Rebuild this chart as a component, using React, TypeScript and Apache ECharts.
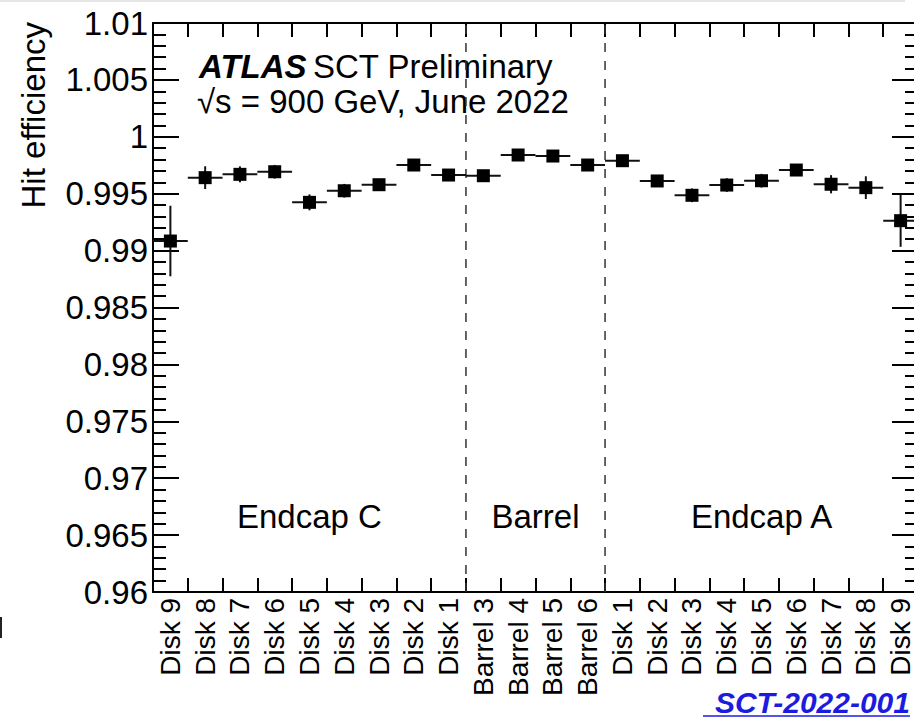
import React, { useEffect, useRef } from "react";
import * as echarts from "echarts";

const categories = [
  "Disk 9", "Disk 8", "Disk 7", "Disk 6", "Disk 5", "Disk 4", "Disk 3", "Disk 2", "Disk 1",
  "Barrel 3", "Barrel 4", "Barrel 5", "Barrel 6",
  "Disk 1", "Disk 2", "Disk 3", "Disk 4", "Disk 5", "Disk 6", "Disk 7", "Disk 8", "Disk 9",
];
const efficiency = [
  0.99084, 0.99641, 0.9967, 0.99693, 0.99424, 0.99526, 0.99579, 0.99752, 0.99664,
  0.99658, 0.9984, 0.99831, 0.99752,
  0.9979, 0.99612, 0.99486, 0.99576, 0.99614, 0.99708, 0.99583, 0.99553, 0.99263,
];
const efficiencyError = [
  0.0031, 0.001, 0.0007, 0.0006, 0.0007, 0.0006, 0.0005, 0.0002, 0.0003,
  0.0002, 0.0002, 0.0002, 0.0002,
  0.0002, 0.0004, 0.0006, 0.0006, 0.0006, 0.0005, 0.0008, 0.001, 0.0023,
];
// Region dividers: after these category indices
const dividerAfter = [8, 12];
// Region labels: first index, last index, label
const regionStart = [0, 9, 13];
const regionEnd = [8, 12, 21];
const regionNames = ["Endcap C", "Barrel", "Endcap A"];
const regionLabelY = 0.9666;

const Y_MIN = 0.96;
const Y_MAX = 1.01;
const Y_STEP = 0.005;

const FONT = '"Liberation Sans", Arial, Helvetica, sans-serif';
const FS = 33;

export default function App() {
  const ref = useRef<HTMLDivElement>(null);
  useEffect(() => {
    document.body.style.margin = "0";
    const chart = echarts.init(ref.current!, null, { renderer: "svg" });

    const pointData = efficiency.map((v, i) => [i, v, efficiencyError[i]]);
    const dividerData = dividerAfter.map((i) => [i, Y_MIN]);
    const regionData = regionNames.map((n, k) => [regionStart[k], regionLabelY, regionEnd[k], n]);

    const axisLineStyle = { color: "#000", width: 2 };
    const yAxisBase = {
      type: "value",
      min: Y_MIN,
      max: Y_MAX,
      interval: Y_STEP,
      splitLine: { show: false },
      axisLine: { show: true, onZero: false, lineStyle: axisLineStyle },
      axisTick: { show: true, inside: true, length: 26, lineStyle: { color: "#000", width: 2 } },
      minorTick: { show: true, splitNumber: 5, length: 13, lineStyle: { color: "#000", width: 2 } },
    };

    chart.setOption({
      animation: false,
      backgroundColor: "#fff",
      grid: { left: 153, top: 23, width: 765, height: 569, containLabel: false, outerBoundsMode: "none" },
      xAxis: [
        {
          type: "category",
          data: categories,
          position: "bottom",
          boundaryGap: true,
          axisLine: { show: true, onZero: false, lineStyle: axisLineStyle },
          axisTick: { show: true, inside: true, length: 14, interval: 0, alignWithLabel: false, lineStyle: { color: "#000", width: 2 } },
          axisLabel: {
            show: true,
            interval: 0,
            rotate: 90,
            margin: 6,
            color: "#000",
            fontSize: 28,
            fontFamily: FONT,
            hideOverlap: false,
          },
          splitLine: { show: false },
        },
        {
          type: "category",
          data: categories,
          position: "top",
          boundaryGap: true,
          axisLine: { show: true, onZero: false, lineStyle: axisLineStyle },
          axisTick: { show: true, inside: true, length: 14, interval: 0, alignWithLabel: false, lineStyle: { color: "#000", width: 2 } },
          axisLabel: { show: false },
          splitLine: { show: false },
        },
      ],
      yAxis: [
        {
          ...yAxisBase,
          position: "left",
          axisLabel: {
            show: true,
            margin: 5,
            color: "#000",
            fontSize: FS,
            fontFamily: FONT,
            formatter: (v: number) => parseFloat(v.toFixed(3)).toString(),
          },
        },
        {
          ...yAxisBase,
          position: "right",
          axisLabel: { show: false },
        },
      ],
      series: [
        {
          type: "custom",
          name: "dividers",
          xAxisIndex: 0,
          yAxisIndex: 0,
          data: dividerData,
          encode: { x: 0, y: 1 },
          z: 1,
          renderItem: (params: any, api: any) => {
            const i = api.value(0);
            const bw = api.size([1, 0])[0];
            const p1 = api.coord([i, Y_MIN]);
            const p2 = api.coord([i, Y_MAX]);
            const x = p1[0] + bw / 2;
            return {
              type: "line",
              shape: { x1: x, y1: p1[1], x2: x, y2: p2[1] },
              style: { stroke: "#333", lineWidth: 1.5, lineDash: [9, 9] },
            };
          },
        },
        {
          type: "custom",
          name: "regions",
          xAxisIndex: 0,
          yAxisIndex: 0,
          data: regionData,
          encode: { x: 0, y: 1 },
          renderItem: (params: any, api: any) => {
            const s = api.value(0);
            const y = api.value(1);
            const e = api.value(2);
            const item = regionData[params.dataIndex];
            const a = api.coord([s, y]);
            const b = api.coord([e, y]);
            return {
              type: "text",
              x: (a[0] + b[0]) / 2,
              y: a[1],
              style: {
                text: item[3],
                fill: "#000",
                fontSize: FS,
                fontFamily: FONT,
                align: "center",
                verticalAlign: "middle",
              },
            };
          },
        },
        {
          type: "custom",
          name: "Hit efficiency",
          xAxisIndex: 0,
          yAxisIndex: 0,
          data: pointData,
          encode: { x: 0, y: 1 },
          z: 5,
          renderItem: (params: any, api: any) => {
            const i = api.value(0);
            const v = api.value(1);
            const err = api.value(2);
            const c = api.coord([i, v]);
            const hi = api.coord([i, v + err]);
            const lo = api.coord([i, v - err]);
            const bw = api.size([1, 0])[0];
            return {
              type: "group",
              children: [
                {
                  type: "line",
                  shape: { x1: c[0] - bw / 2, y1: c[1], x2: c[0] + bw / 2, y2: c[1] },
                  style: { stroke: "#111", lineWidth: 2 },
                },
                {
                  type: "line",
                  shape: { x1: c[0], y1: hi[1], x2: c[0], y2: lo[1] },
                  style: { stroke: "#111", lineWidth: 2 },
                },
                {
                  type: "rect",
                  shape: { x: c[0] - 6.5, y: c[1] - 6.5, width: 13, height: 13 },
                  style: { fill: "#000" },
                },
              ],
            };
          },
        },
      ],
      graphic: [
        { type: "rect", shape: { x: 0, y: 0, width: 905, height: 2 }, style: { fill: "#e6e6e6" } },
        { type: "rect", shape: { x: 0, y: 617, width: 2, height: 21 }, style: { fill: "#222" } },
        {
          type: "text",
          x: 33,
          y: 22,
          rotation: Math.PI / 2,
          style: {
            text: "Hit efficiency",
            fill: "#000",
            fontSize: FS,
            fontFamily: FONT,
            align: "right",
            verticalAlign: "middle",
          },
        },
        {
          type: "text",
          x: 199,
          y: 66,
          style: {
            text: "ATLAS",
            fill: "#000",
            fontSize: FS,
            fontWeight: "bold",
            fontStyle: "italic",
            fontFamily: FONT,
            align: "left",
            verticalAlign: "middle",
          },
        },
        {
          type: "text",
          x: 313,
          y: 66,
          style: {
            text: "SCT Preliminary",
            fill: "#000",
            fontSize: FS,
            fontFamily: FONT,
            align: "left",
            verticalAlign: "middle",
          },
        },
        {
          type: "text",
          x: 197,
          y: 101,
          style: {
            text: "√s = 900 GeV, June 2022",
            fill: "#000",
            fontSize: FS,
            fontFamily: FONT,
            align: "left",
            verticalAlign: "middle",
          },
        },
        {
          type: "text",
          x: 910,
          y: 702,
          style: {
            text: "SCT-2022-001",
            fill: "#1c1ce0",
            fontSize: 30,
            fontWeight: "bold",
            fontStyle: "italic",
            fontFamily: FONT,
            align: "right",
            verticalAlign: "middle",
          },
        },
        {
          type: "line",
          shape: { x1: 703, y1: 716, x2: 910, y2: 716 },
          style: { stroke: "#1c1ce0", lineWidth: 1.5 },
        },
      ],
    });
    return () => chart.dispose();
  }, []);
  return (
    <div
      ref={ref}
      style={{ position: "absolute", left: 0, top: 0, width: 914, height: 720 }}
    />
  );
}
